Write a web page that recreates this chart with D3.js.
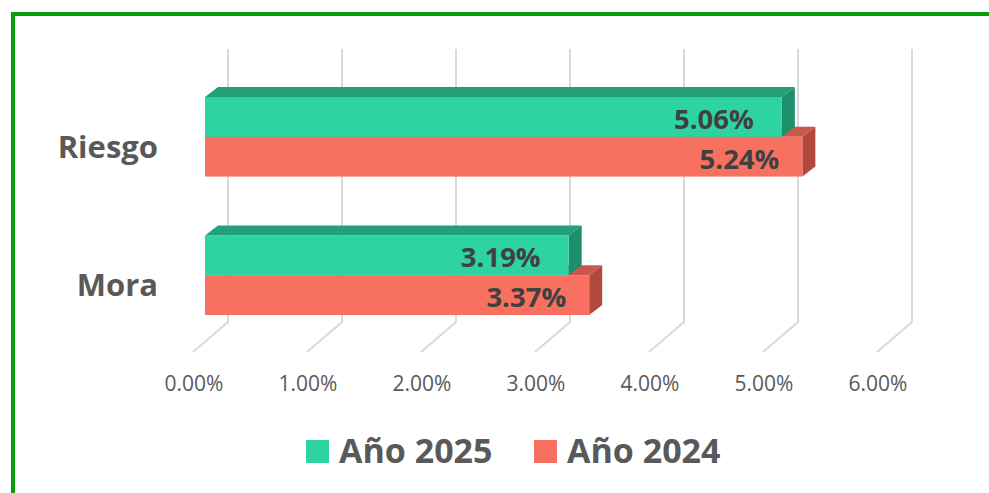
<!DOCTYPE html>
<html>
<head>
<meta charset="utf-8">
<script src="https://cdn.jsdelivr.net/npm/d3@7"></script>
<style>
	body { margin: 0; background: #fff; }
	text { font-family: "Open Sans", "DejaVu Sans", sans-serif; }
</style>
</head>
<body>
<div id="chart"></div>
<script>
// data
let categories = ["Riesgo", "Mora"];
let seriesNames = ["Año 2025", "Año 2024"];
let values2025 = [5.06, 3.19];
let values2024 = [5.24, 3.37];
let ticks = [0, 1, 2, 3, 4, 5, 6];

let panel = {
	width: 989,
	height: 493
};

// colours for front / top / side faces
let colors = {
	"Año 2025": { front: "#2dd4a1", top: "#21a07a", side: "#1d8f6c", inset: 28 },
	"Año 2024": { front: "#f8705f", top: "#c9584a", side: "#b3493c", inset: 23 }
};

// 3d offsets
let depth = { dx: 13, dy: -10 };
let floor = { dx: -35, dy: 30 };

let svg = d3.select("#chart")
	.append("svg")
	.attr("width", panel.width)
	.attr("height", panel.height);

// frame
svg.append("rect")
	.attr("x", 13)
	.attr("y", 14)
	.attr("width", 1100)
	.attr("height", 600)
	.attr("fill", "none")
	.attr("stroke", "#0a9b0a")
	.attr("stroke-width", 4);

// back wall scale and front scale of the bars
let xBack = d3.scaleLinear().domain([0, 6]).range([228, 912]);
let xFront = d3.scaleLinear().domain([0, 6]).range([205, 889]);

let y = d3.scaleBand()
	.domain(categories)
	.range([97, 315])
	.paddingInner(0.425)
	.paddingOuter(0);

let ySeries = d3.scaleBand()
	.domain(seriesNames)
	.range([0, y.bandwidth()]);

// gridlines (back wall + floor)
let wallTop = 49, wallBottom = 322;
let grid = svg.append("g").attr("id", "grid");
grid.selectAll("path")
	.data(ticks)
	.enter().append("path")
	.attr("d", (d) => {
		let x = xBack(d);
		return "M" + x + "," + wallTop + "L" + x + "," + wallBottom +
			"L" + (x + floor.dx) + "," + (wallBottom + floor.dy);
	})
	.attr("fill", "none")
	.attr("stroke", "#d9d9d9")
	.attr("stroke-width", 2);

// tick labels
svg.append("g")
	.selectAll("text")
	.data(ticks)
	.enter().append("text")
	.attr("x", (d) => { return xBack(d) + floor.dx + 1; })
	.attr("y", 391)
	.attr("text-anchor", "middle")
	.attr("font-size", 21)
	.attr("fill", "#595959")
	.text((d) => { return d3.format(".2f")(d) + "%"; });

// bars, 2024 first so 2025 sits over it
let bars = [];
categories.forEach((c, i) => {
	bars.push({ cat: c, series: "Año 2024", value: values2024[i] });
	bars.push({ cat: c, series: "Año 2025", value: values2025[i] });
});

let barG = svg.append("g").attr("id", "bars");
bars.forEach((d) => {
	let x0 = xFront(0);
	let x1 = xFront(d.value);
	let y0 = y(d.cat) + ySeries(d.series);
	let h = ySeries.bandwidth();
	let col = colors[d.series];
	let g = barG.append("g");
	// top face
	g.append("path")
		.attr("d", "M" + x0 + "," + y0 + "L" + x1 + "," + y0 +
			"L" + (x1 + depth.dx) + "," + (y0 + depth.dy) +
			"L" + (x0 + depth.dx) + "," + (y0 + depth.dy) + "Z")
		.attr("fill", col.top);
	// side face
	g.append("path")
		.attr("d", "M" + x1 + "," + y0 + "L" + (x1 + depth.dx) + "," + (y0 + depth.dy) +
			"L" + (x1 + depth.dx) + "," + (y0 + h + depth.dy) +
			"L" + x1 + "," + (y0 + h) + "Z")
		.attr("fill", col.side);
	// front face
	g.append("rect")
		.attr("x", x0)
		.attr("y", y0)
		.attr("width", x1 - x0)
		.attr("height", h)
		.attr("fill", col.front);
	// value label
	g.append("text")
		.attr("x", x1 - col.inset)
		.attr("y", y0 + h / 2 + 12)
		.attr("text-anchor", "end")
		.attr("font-size", 27.5)
		.attr("font-weight", "bold")
		.attr("fill", "#404040")
		.text(d3.format(".2f")(d.value) + "%");
});

// category labels
svg.append("g")
	.selectAll("text")
	.data(categories)
	.enter().append("text")
	.attr("x", 158)
	.attr("y", (d) => { return y(d) + y.bandwidth() / 2 + 21; })
	.attr("text-anchor", "end")
	.attr("font-size", 31)
	.attr("font-weight", "bold")
	.attr("fill", "#595959")
	.text((d) => { return d; });

// legend
let legendX = [306, 534];
let legend = svg.append("g")
	.selectAll("g")
	.data(seriesNames)
	.enter().append("g")
	.attr("transform", (d, i) => { return "translate(" + legendX[i] + ",440)"; });
legend.append("rect")
	.attr("width", 23)
	.attr("height", 23)
	.attr("fill", (d) => { return colors[d].front; });
legend.append("text")
	.attr("x", 33)
	.attr("y", 23)
	.attr("font-size", 34)
	.attr("font-weight", "bold")
	.attr("fill", "#595959")
	.text((d) => { return d; });
</script>
</body>
</html>
